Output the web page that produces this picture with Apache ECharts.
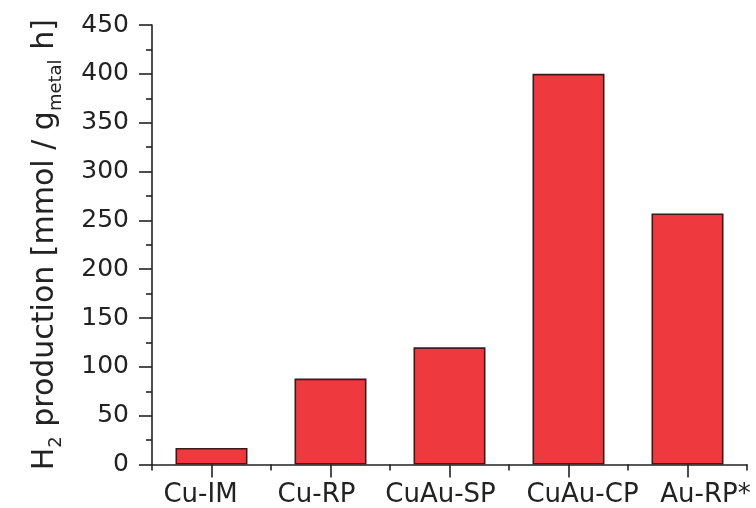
<!DOCTYPE html>
<html>
<head>
<meta charset="utf-8">
<script src="https://cdn.jsdelivr.net/npm/echarts@6/dist/echarts.min.js"></script>
<style>html,body{margin:0;padding:0;background:#fff}#c{width:756px;height:508px}</style>
</head>
<body>
<div id="c"></div>
<script>
var categories = ['Cu-IM', 'Cu-RP', 'CuAu-SP', 'CuAu-CP', 'Au-RP*'];
var h2Production = [17, 88, 120, 400, 257];
var yTicks = [0, 50, 100, 150, 200, 250, 300, 350, 400, 450];

var FONT = 'DejaVu Sans';
var TXT = '#222';
var AX = '#222';
// per-label horizontal nudge (px) to match reference label placement
var labelShift = { 'Cu-IM': -11, 'Cu-RP': -14, 'CuAu-SP': -9, 'CuAu-CP': 14, 'Au-RP*': 18 };
var rich = {};
categories.forEach(function (c, i) {
  var s = labelShift[c] || 0;
  rich['l' + i] = {
    fontFamily: FONT, fontSize: 26, color: TXT,
    padding: s >= 0 ? [0, 0, 0, 2 * s] : [0, -2 * s, 0, 0]
  };
});

var chart = echarts.init(document.getElementById('c'), null, { renderer: 'canvas' });
chart.setOption({
  animation: false,
  backgroundColor: '#fff',
  grid: { left: 152, right: 9, top: 25, bottom: 43.5, containLabel: false, outerBoundsMode: 'none' },
  xAxis: [{
    type: 'category',
    data: categories,
    position: 'bottom',
    axisLine: { show: true, lineStyle: { color: AX, width: 1.6 } },
    axisTick: { show: true, alignWithLabel: true, length: 13, lineStyle: { color: AX, width: 1.6 } },
    axisLabel: {
      margin: 18,
      interval: 0,
      formatter: function (v) { return '{l' + categories.indexOf(v) + '|' + v + '}'; },
      rich: rich
    },
    splitLine: { show: false }
  }, {
    type: 'category',
    data: categories,
    position: 'bottom',
    axisLine: { show: false },
    axisTick: { show: true, alignWithLabel: false, length: 6, interval: 0, lineStyle: { color: AX, width: 1.6 } },
    axisLabel: { show: false },
    splitLine: { show: false }
  }],
  yAxis: {
    type: 'value',
    min: yTicks[0],
    max: yTicks[yTicks.length - 1],
    interval: yTicks[1] - yTicks[0],
    name: '{m|H}{s|2}{m| production [mmol / g}{s|metal}{m| h]}',
    nameLocation: 'middle',
    nameRotate: 90,
    nameGap: 87,
    nameTextStyle: {
      fontFamily: FONT,
      color: TXT,
      rich: {
        m: { fontFamily: FONT, fontSize: 30, color: TXT, lineHeight: 40, verticalAlign: 'middle' },
        s: { fontFamily: FONT, fontSize: 18, color: TXT, lineHeight: 14, verticalAlign: 'bottom' }
      }
    },
    axisLine: { show: true, lineStyle: { color: AX, width: 1.6 } },
    axisTick: { show: true, length: 13, lineStyle: { color: AX, width: 1.6 } },
    minorTick: { show: true, splitNumber: 2, length: 6, lineStyle: { color: AX, width: 1.6 } },
    axisLabel: { margin: 23, fontFamily: FONT, fontSize: 25, color: TXT },
    splitLine: { show: false },
    minorSplitLine: { show: false }
  },
  series: [{
    type: 'bar',
    xAxisIndex: 0,
    data: h2Production,
    barWidth: 72,
    itemStyle: { color: '#EE3A3F', borderColor: '#3d1a1a', borderWidth: 1.6 }
  }]
});
</script>
</body>
</html>
